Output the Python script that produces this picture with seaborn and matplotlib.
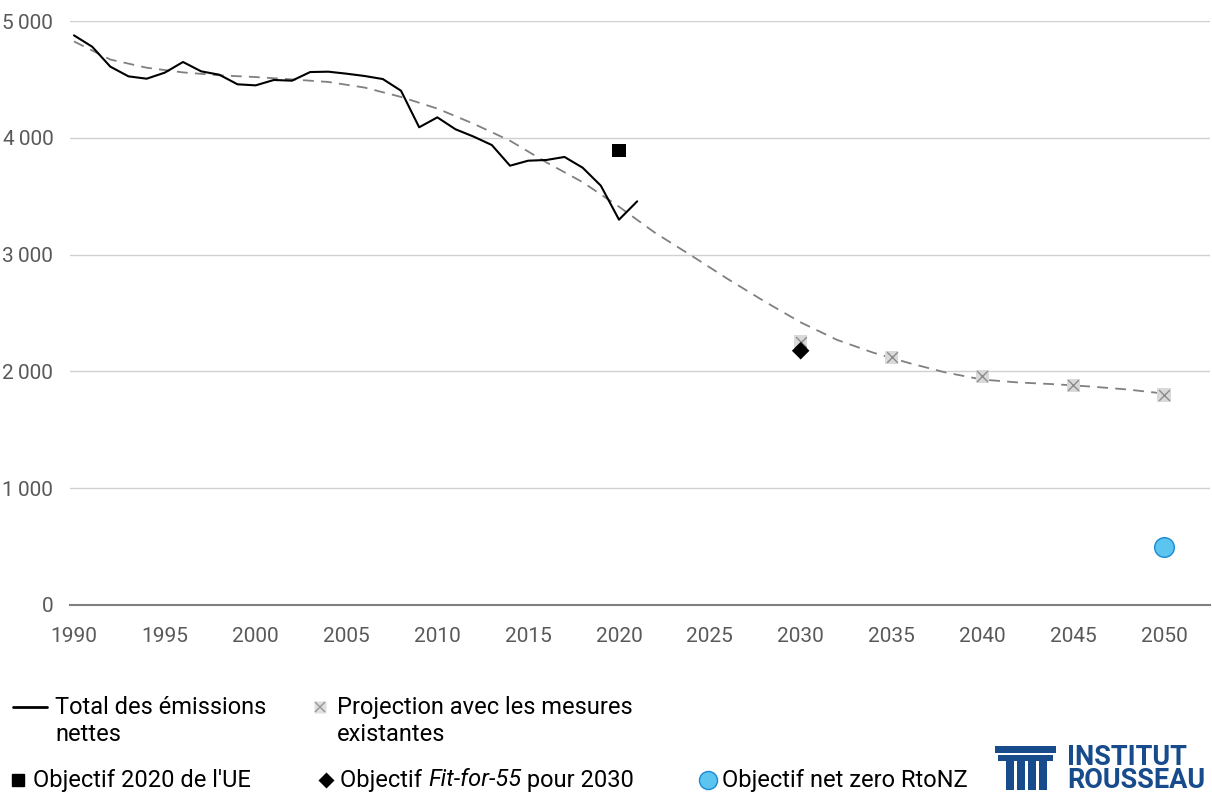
import numpy as np
import pandas as pd
from matplotlib import pyplot as plt
from matplotlib.patches import Rectangle
from matplotlib.lines import Line2D
import seaborn as sns

# historic net emissions (MtCO2e)
hist_years = list(range(1990, 2022))
hist_values = [4877, 4780, 4609, 4526, 4506, 4558, 4649, 4569, 4540, 4458,
               4449, 4495, 4489, 4563, 4566, 4549, 4529, 4503, 4403, 4090,
               4175, 4073, 4010, 3938, 3761, 3804, 3810, 3836, 3744, 3590,
               3299, 3456]

# trend curve (dashed)
trend_years = [1990, 1992, 1994, 1996, 1998, 2000, 2002, 2004, 2006, 2008,
               2010, 2012, 2014, 2016, 2018, 2020, 2022, 2024, 2026, 2028,
               2030, 2032, 2034, 2036, 2038, 2040, 2042, 2044, 2046, 2048, 2050]
trend_values = [4825, 4670, 4600, 4560, 4535, 4520, 4500, 4478, 4430, 4350,
                4250, 4120, 3975, 3790, 3620, 3410, 3185, 2990, 2790, 2600,
                2420, 2270, 2160, 2070, 1990, 1930, 1905, 1890, 1870, 1845, 1810]

# projection with existing measures
proj_years = [2030, 2035, 2040, 2045, 2050]
proj_values = [2254, 2120, 1958, 1881, 1798]

# targets
eu2020_year, eu2020_value = [2020], [3890]
ff55_year, ff55_value = [2030], [2177]
nz_year, nz_value = [2050], [494]

x_ticks = list(range(1990, 2051, 5))
y_ticks = [0, 1000, 2000, 3000, 4000, 5000]
y_labels = ["0", "1\u2009000", "2\u2009000", "3\u2009000", "4\u2009000", "5\u2009000"]

sns.set_style("white")
plt.rcParams['font.family'] = ['Roboto', 'DejaVu Sans']

W, H = 1212, 796
fig = plt.figure(figsize=(W / 100, H / 100), dpi=100)
ax = fig.add_axes([70 / W, 1 - 605 / H, 1140 / W, 584 / H])


def px(x, y):
    return x / W, 1 - y / H


hist = pd.DataFrame({"year": hist_years, "value": hist_values})
trend = pd.DataFrame({"year": trend_years, "value": trend_values})
proj = pd.DataFrame({"year": proj_years, "value": proj_values})

sns.lineplot(data=trend, x="year", y="value", ax=ax, color="#808080",
             lw=1.3, linestyle=(0, (6, 4)), zorder=3)
sns.lineplot(data=hist, x="year", y="value", ax=ax, color="black", lw=1.5, zorder=4)
sns.scatterplot(data=proj, x="year", y="value", ax=ax, marker="s", s=90,
                color="#d9d9d9", edgecolor="none", zorder=5)
sns.scatterplot(data=proj, x="year", y="value", ax=ax, marker="x", s=60,
                color="#8c8c8c", linewidth=1.0, zorder=6)
sns.scatterplot(x=eu2020_year, y=eu2020_value, ax=ax, marker="s", s=90,
                color="black", edgecolor="none", zorder=6)
sns.scatterplot(x=ff55_year, y=ff55_value, ax=ax, marker="D", s=80,
                color="black", edgecolor="none", zorder=7)
sns.scatterplot(x=nz_year, y=nz_value, ax=ax, marker="o", s=200,
                color="#5bc4ef", edgecolor="#1a8ad4", linewidth=1.0, zorder=6)

ax.set_xlim(1990 - 4 / 18.17, 2050 + 46 / 18.17)
ax.set_ylim(0, 5000)
ax.set_xticks(x_ticks)
ax.set_xticklabels([str(t) for t in x_ticks])
ax.set_yticks(y_ticks)
ax.set_yticklabels(y_labels)
ax.set_xlabel("")
ax.set_ylabel("")
ax.grid(axis="y", color="#d0d0d0", lw=1.0)
ax.set_axisbelow(True)
for s in ["top", "right", "left"]:
    ax.spines[s].set_visible(False)
ax.spines["bottom"].set_color("#7f7f7f")
ax.spines["bottom"].set_linewidth(1.5)
ax.tick_params(axis="both", length=0, labelsize=15, labelcolor="#595959")
ax.tick_params(axis="x", pad=16)
ax.tick_params(axis="y", pad=12)

# legend, drawn by hand below the plot
fs = 17
fig.add_artist(Line2D([13 / W, 47 / W], [1 - 707 / H] * 2, color="black", lw=2,
                      transform=fig.transFigure))
fig.add_artist(Line2D([320 / W], [1 - 707 / H], marker="s", ms=9,
                      color="#e0e0e0", mec="none", transform=fig.transFigure))
fig.add_artist(Line2D([320 / W], [1 - 707 / H], marker="x", ms=7, mew=1.1,
                      color="#9a9a9a", transform=fig.transFigure))
fig.add_artist(Line2D([18 / W], [1 - 780 / H], marker="s", ms=8,
                      color="black", transform=fig.transFigure))
fig.add_artist(Line2D([326 / W], [1 - 780 / H], marker="D", ms=8,
                      color="black", mec="none", transform=fig.transFigure))
fig.add_artist(Line2D([708 / W], [1 - 780 / H], marker="o", ms=13,
                      color="#5bc4ef", mec="#1a8ad4", mew=1.0, transform=fig.transFigure))

txt_kw = dict(fontsize=fs, va="center", ha="left", color="black")
fig.text(*px(55, 721), "Total des émissions\nnettes", linespacing=1.25, **txt_kw)
fig.text(*px(337, 721), "Projection avec les mesures\nexistantes", linespacing=1.25, **txt_kw)
fig.text(*px(33, 780), "Objectif 2020 de l'UE", **txt_kw)
fig.text(*px(722, 780), "Objectif net zero RtoNZ", **txt_kw)

# mixed upright / italic label
renderer = fig.canvas.get_renderer()
x_cur = 340
for piece, style in [("Objectif ", "normal"), ("Fit-for-55", "italic"), (" pour 2030", "normal")]:
    t = fig.text(*px(x_cur, 780), piece, fontstyle=style, **txt_kw)
    x_cur += t.get_window_extent(renderer).width

# logo
blue = "#174b8b"
for (x0, y0, w, h) in [(995, 746, 61, 7), (998, 755, 55, 6),
                       (1006, 761, 8, 29), (1017, 761, 8, 29),
                       (1028, 761, 8, 29), (1039, 761, 8, 29)]:
    fig.add_artist(Rectangle((x0 / W, 1 - (y0 + h) / H), w / W, h / H,
                             color=blue, transform=fig.transFigure, lw=0))
fig.text(*px(1067, 769), "INSTITUT\nROUSSEAU", fontsize=19.5, fontweight="bold",
         color=blue, va="center", ha="left", linespacing=0.82)

fig.savefig("out.png", dpi=100)
